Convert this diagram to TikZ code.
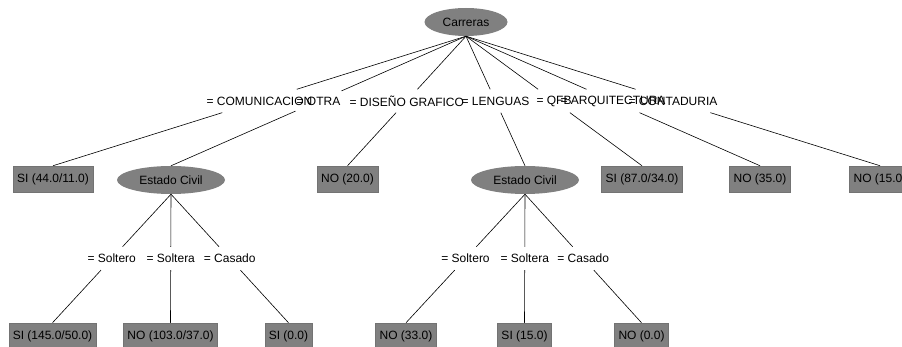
\documentclass[tikz,border=0pt]{standalone}
\usepackage{fontspec}
\setmainfont{Liberation Sans}
\usetikzlibrary{shapes.geometric,calc}

\begin{document}
\begin{tikzpicture}[
    x=1pt, y=-1pt,
    font=\fontsize{12}{14}\selectfont,
    % nodos del arbol
    hoja/.style={rectangle, fill=gray, draw=black!55, line width=0.5pt,
        inner xsep=4pt, inner ysep=0pt, minimum height=26pt},
    atributo/.style={ellipse, fill=gray, inner sep=0pt, minimum height=28pt},
    % etiquetas de las ramas
    rama/.style={rectangle, inner xsep=1pt, inner ysep=0pt, minimum height=23pt},
    arista/.style={line width=0.6pt},
]

\useasboundingbox (0,0) rectangle (902,347);

% ---- raiz ----
\node[atributo, minimum width=83pt] (carreras) at (466,22) {Carreras};

% ---- primer nivel ----
\node[hoja] (siA) at (53,179) {SI (44.0/11.0)};
\node[atributo, minimum width=108pt] (civilA) at (171,180) {Estado Civil};
\node[hoja] (noA) at (347.5,179) {NO (20.0)};
\node[atributo, minimum width=108pt] (civilB) at (525,180) {Estado Civil};
\node[hoja] (siB) at (642,179) {SI (87.0/34.0)};
\node[hoja] (noB) at (760,179) {NO (35.0)};
\node[hoja] (noC) at (880,179) {NO (15.0)};

% ---- segundo nivel ----
\node[hoja] (siC) at (52.5,336) {SI (145.0/50.0)};
\node[hoja] (noD) at (170.5,336) {NO (103.0/37.0)};
\node[hoja] (siD) at (288.5,336) {SI (0.0)};
\node[hoja] (noE) at (406,336) {NO (33.0)};
\node[hoja] (siE) at (524.5,336) {SI (15.0)};
\node[hoja] (noF) at (641.5,336) {NO (0.0)};

% ---- etiquetas (a media rama) ----
\node[rama] (rCom) at ($(carreras.south)!0.5!(siA.north)$) {= COMUNICACION};
\node[rama] (rOtra) at ($(carreras.south)!0.5!(civilA.north)$) {= OTRA};
\node[rama] (rDis) at ($(carreras.south)!0.5!(noA.north)$) {= DISEÑO GRAFICO};
\node[rama] (rLen) at ($(carreras.south)!0.5!(civilB.north)$) {= LENGUAS};
\node[rama] (rQfb) at ($(carreras.south)!0.5!(siB.north)$) {= QFB};
\node[rama] (rArq) at ($(carreras.south)!0.5!(noB.north)$) {= ARQUITECTURA};
\node[rama] (rCon) at ($(carreras.south)!0.5!(noC.north)$) {= CONTADURIA};

\node[rama] (rSoltA) at ($(civilA.south)!0.5!(siC.north)$) {= Soltero};
\node[rama] (rSoltaA) at ($(civilA.south)!0.5!(noD.north)$) {= Soltera};
\node[rama] (rCasA) at ($(civilA.south)!0.5!(siD.north)$) {= Casado};
\node[rama] (rSoltB) at ($(civilB.south)!0.5!(noE.north)$) {= Soltero};
\node[rama] (rSoltaB) at ($(civilB.south)!0.5!(siE.north)$) {= Soltera};
\node[rama] (rCasB) at ($(civilB.south)!0.5!(noF.north)$) {= Casado};

% ---- aristas ----
\foreach \r/\h in {rCom/siA, rOtra/civilA, rDis/noA, rLen/civilB, rQfb/siB, rArq/noB, rCon/noC}
    \draw[arista] (carreras.south) -- (\r) (\r) -- (\h.north);
\foreach \r/\h in {rSoltA/siC, rSoltaA/noD, rCasA/siD}
    \draw[arista] (civilA.south) -- (\r) (\r) -- (\h.north);
\foreach \r/\h in {rSoltB/noE, rSoltaB/siE, rCasB/noF}
    \draw[arista] (civilB.south) -- (\r) (\r) -- (\h.north);

\end{tikzpicture}
\end{document}
